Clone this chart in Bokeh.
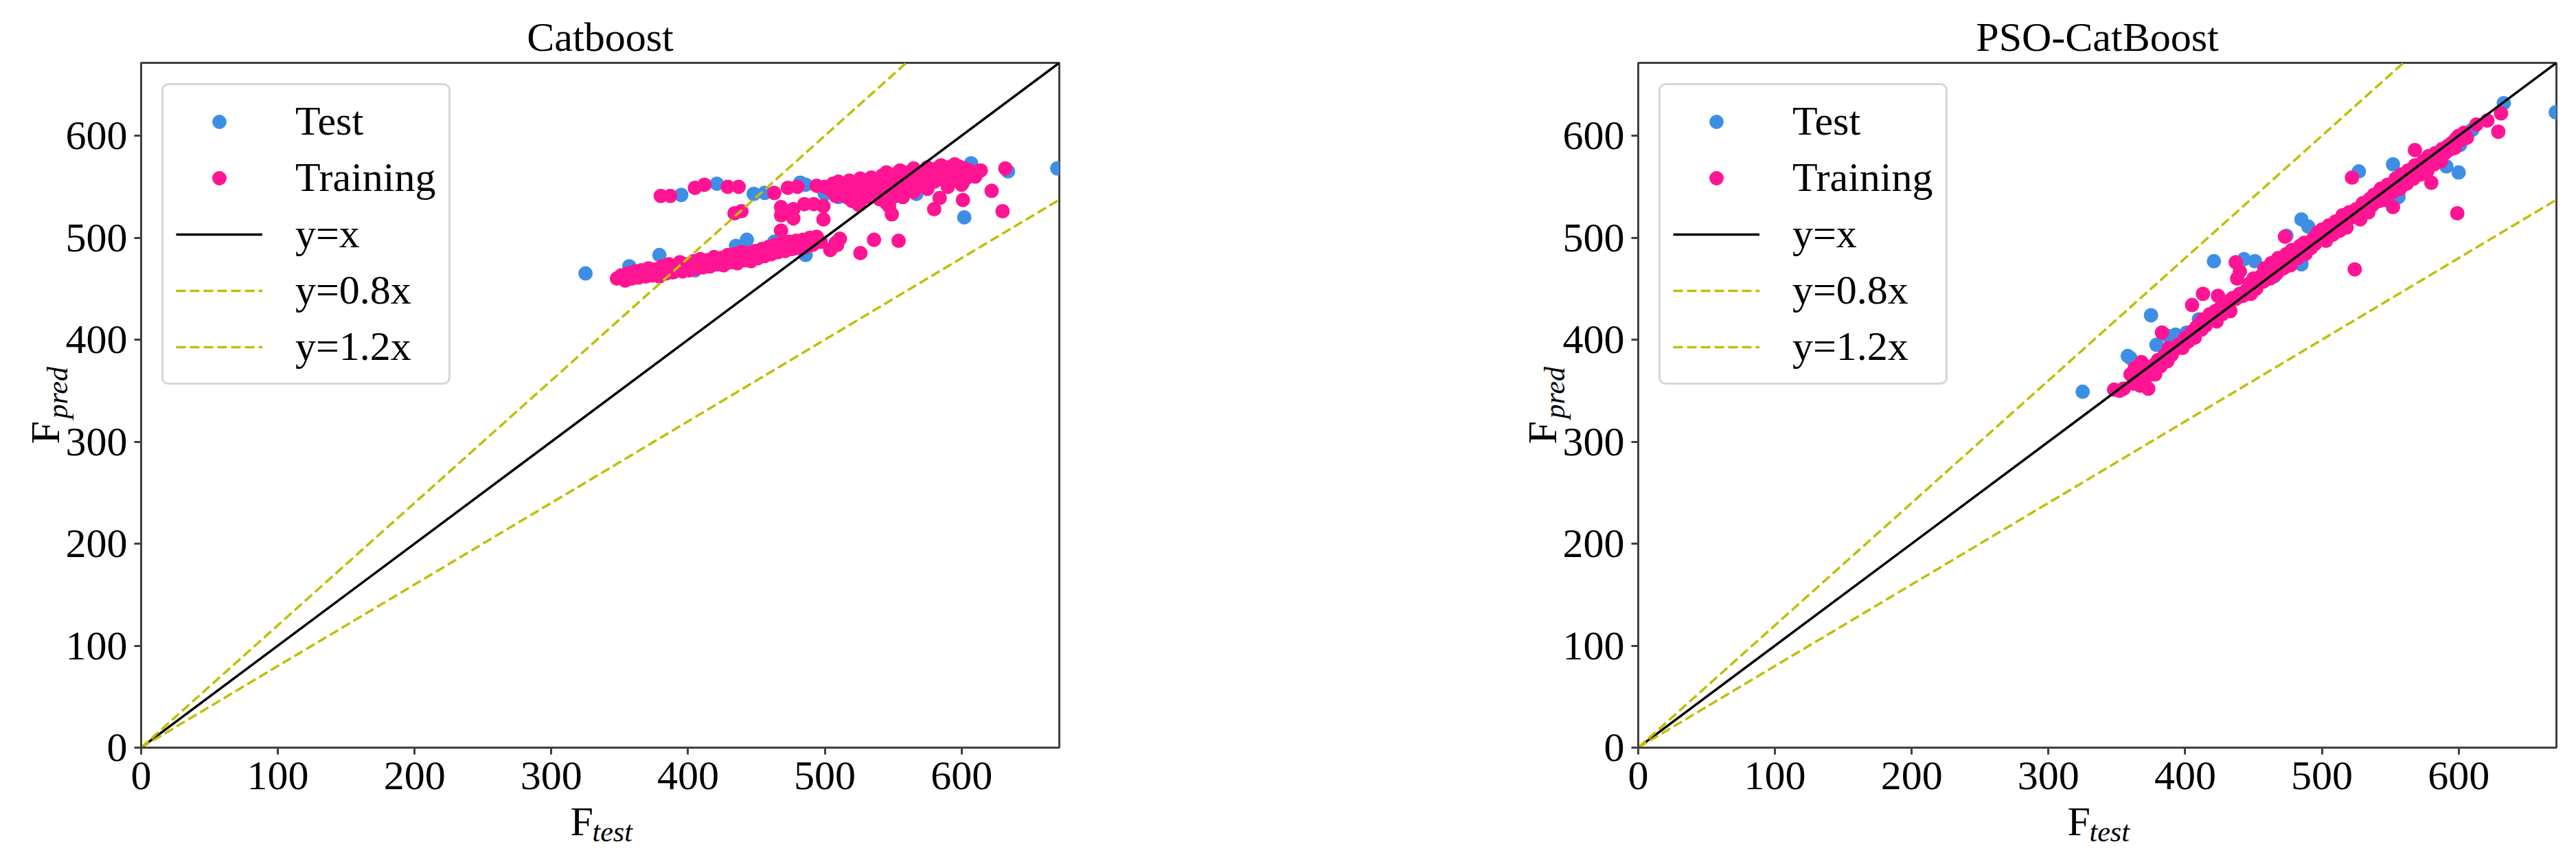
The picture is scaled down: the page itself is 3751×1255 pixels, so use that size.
from bokeh.plotting import figure
from bokeh.models import Range1d, Legend, LegendItem, FixedTicker, Title
from bokeh.layouts import row
from bokeh.embed import file_html
from bokeh.resources import INLINE

# ---------------- data ----------------
AX_MAX = 671.5
TICKS = [0, 100, 200, 300, 400, 500, 600]
REF_X = [0, AX_MAX]
SLOPES = {"y=x": 1.0, "y=0.8x": 0.8, "y=1.2x": 1.2}

TITLES = ["Catboost", "PSO-CatBoost"]

# Catboost - test
cat_test_x = [325, 357, 365, 379, 395, 405, 421, 435, 443, 448, 456, 463, 482, 486, 486,
              500, 510, 530, 545, 555, 567, 575, 590, 601, 602, 607, 634, 670]
cat_test_y = [465, 472, 468, 483, 542, 468, 553, 492, 498, 543, 544, 496, 554, 552, 483,
              543, 540, 552, 562, 558, 543, 560, 565, 554, 520, 573, 565, 568]

# Catboost - training
cat_train_x = [
    348, 351, 354, 356, 359, 361, 364, 366, 369, 371, 374, 376, 379, 381, 384, 386, 389, 391,
    394, 396, 399, 401, 404, 406, 409, 411, 414, 416, 419, 421, 424, 426, 429, 431, 434, 436,
    439, 441, 444, 446, 449, 451, 454, 456, 459, 461, 464, 466, 469, 471, 474, 476, 479, 481,
    484, 486, 489, 491, 494, 497,
    468, 511, 504, 509, 526, 536, 554, 508,
    439, 434, 468, 468, 477, 477, 485, 492, 499, 499, 549, 547, 580, 584, 601, 622, 630, 614, 632,
    380, 387, 405, 412, 429, 437, 463, 473, 480, 494, 500,
    503, 506, 508, 510, 512, 514, 516, 518, 520, 522, 524, 526, 528, 530, 532, 534, 536, 538,
    540, 542, 544, 546, 548, 550, 552, 554, 556, 558, 560, 562, 564, 566, 568, 570, 572, 574,
    576, 578, 580, 582, 584, 586, 588, 590, 592, 594, 596, 598, 600, 602, 604, 606,
    585, 575, 565, 555, 545, 595, 590, 580, 570, 560, 550, 540, 530, 520, 525, 545, 557, 565,
    575, 590, 600, 610, 612, 515, 535, 555, 575, 595]
cat_train_y = [
    460, 463, 458, 465, 460, 467, 461, 468, 462, 470, 463, 469, 462, 472, 465, 474, 466, 471,
    476, 467, 474, 468, 477, 470, 479, 471, 478, 472, 481, 474, 480, 473, 483, 476, 484, 475,
    486, 478, 485, 477, 487, 480, 489, 482, 491, 484, 493, 486, 494, 487, 496, 489, 497, 490,
    498, 491, 500, 493, 501, 496,
    507, 499, 488, 493, 485, 498, 497, 495,
    526, 524, 530, 522, 528, 519, 533, 533, 518, 531, 523, 531, 528, 539, 537, 546, 526, 566, 568,
    541, 541, 549, 552, 550, 550, 544, 549, 550, 551, 550,
    548, 553, 541, 555, 545, 552, 540, 556, 546, 553, 543, 558, 548, 555, 544, 559, 549, 557,
    546, 561, 551, 558, 547, 562, 552, 560, 549, 564, 554, 561, 551, 566, 556, 563, 553, 567,
    557, 565, 555, 568, 558, 566, 556, 569, 560, 567, 558, 570, 561, 568, 559, 566,
    571, 569, 568, 566, 564, 572, 563, 562, 558, 546, 540, 538, 540, 536, 532, 534, 540, 545,
    548, 550, 552, 560, 565, 548, 553, 556, 561, 565]

# PSO-CatBoost - test
pso_test_x = [325, 358, 360, 365, 375, 379, 387, 393, 401, 410, 421, 425, 430, 443, 451, 455,
              465, 474, 485, 485, 490, 505, 512, 520, 527, 535, 545, 552, 556, 560, 570, 578,
              585, 591, 595, 600, 601, 605, 610, 633, 671]
pso_test_y = [349, 384, 382, 366, 424, 395, 404, 405, 407, 420, 477, 430, 436, 479, 477, 458,
              462, 502, 518, 474, 511, 504, 510, 524, 565, 536, 543, 572, 540, 557, 565, 575,
              580, 570, 590, 564, 591, 600, 606, 632, 623]

# PSO-CatBoost - training
pso_train_x = [
    348, 352, 355, 360, 362, 363, 365, 367, 368, 370, 372, 373, 375, 377, 378, 380, 383, 382,
    385, 387, 388, 390, 392, 395, 405, 398, 400, 402, 413, 405, 407, 408, 410, 412, 413, 415,
    424, 418, 420, 422, 423, 425, 427, 428, 430, 432, 433, 435, 437, 437, 438, 440, 440, 442,
    445, 447, 448, 450, 452, 453, 455, 457, 458, 460, 462, 463, 465, 467, 468, 470, 473, 472,
    474, 475, 477, 478, 480, 482, 484, 485, 487, 488, 490, 492, 494, 495, 497, 498, 500, 502,
    503, 505, 507, 508, 510, 512, 513, 515, 517, 518, 520, 522, 522, 524, 525, 527, 528, 530,
    532, 534, 535, 537, 538, 540, 542, 543, 545, 547, 548, 550, 552, 552, 554, 555, 557, 558,
    560, 562, 563, 565, 567, 568, 568, 570, 572, 580, 574, 575, 577, 578, 580, 582, 583, 585,
    587, 588, 590, 592, 593, 595, 597, 598, 599, 600, 602, 604, 606, 613, 621, 629, 631]
pso_train_y = [
    351, 350, 352, 366, 357, 372, 360, 355, 378, 368, 364, 352, 370, 375, 366, 380, 407, 374,
    385, 379, 392, 385, 390, 395, 434, 392, 402, 398, 445, 408, 402, 412, 415, 410, 420, 414,
    443, 425, 423, 428, 418, 430, 425, 437, 433, 438, 428, 441, 476, 440, 460, 445, 467, 443,
    449, 455, 445, 460, 450, 458, 462, 457, 470, 464, 460, 475, 470, 465, 480, 474, 501, 470,
    484, 478, 473, 488, 484, 480, 492, 487, 495, 484, 495, 490, 500, 494, 505, 498, 508, 502,
    497, 512, 508, 503, 516, 512, 507, 522, 516, 510, 525, 520, 559, 469, 528, 522, 518, 534,
    528, 525, 538, 532, 542, 540, 536, 548, 543, 537, 552, 548, 545, 530, 558, 552, 548, 562,
    557, 553, 566, 562, 558, 586, 571, 566, 562, 554, 575, 570, 565, 580, 576, 572, 583, 579,
    575, 587, 583, 590, 586, 593, 588, 597, 524, 600, 596, 603, 598, 611, 615, 604, 622]

PANELS = [
    (cat_test_x, cat_test_y, cat_train_x, cat_train_y),
    (pso_test_x, pso_test_y, pso_train_x, pso_train_y),
]

# ---------------- style ----------------
BLUE = "#3D8FE6"
PINK = "#FF1493"
YELLOW = "#BFBF00"
FRAME = "#404040"
FONT = "Liberation Serif"
FS = "60px"
SUB_FS = "42px"


def txt_title(text, size, style, **kw):
    return Title(text=text, text_font=FONT, text_font_size=size, text_font_style=style,
                 text_color="black", **kw)


def make_panel(title, data, width, b_left, b_right):
    tx, ty, rx, ry = data
    p = figure(width=width, height=1250, x_range=Range1d(0, AX_MAX), y_range=Range1d(0, AX_MAX),
               output_backend="svg", toolbar_location=None,
               min_border_left=b_left, min_border_right=b_right,
               min_border_top=91, min_border_bottom=162)
    p.grid.visible = False
    p.background_fill_color = "white"
    p.border_fill_color = "white"
    p.outline_line_color = FRAME
    p.outline_line_width = 3
    p.outline_line_alpha = 1.0

    for ax in (p.xaxis[0], p.yaxis[0]):
        ax.ticker = FixedTicker(ticks=TICKS)
        ax.axis_line_color = FRAME
        ax.axis_line_width = 3
        ax.major_tick_line_color = FRAME
        ax.major_tick_line_width = 3
        ax.major_tick_out = 10
        ax.major_tick_in = 0
        ax.minor_tick_line_color = None
        ax.major_label_text_font = FONT
        ax.major_label_text_font_size = FS
        ax.major_label_text_color = "black"
    p.xaxis.major_label_standoff = 11
    p.yaxis.major_label_standoff = 10

    r_test = p.scatter(tx, ty, size=21, fill_color=BLUE, line_color=None)
    r_train = p.scatter(rx, ry, size=21, fill_color=PINK, line_color=None)
    line_rs = []
    for name, k in SLOPES.items():
        ys = [k * v for v in REF_X]
        if k == 1.0:
            r = p.line(REF_X, ys, line_color="black", line_width=3.5)
        else:
            r = p.line(REF_X, ys, line_color=YELLOW, line_width=3.5, line_dash="14 6")
        line_rs.append((name, r))

    items = [LegendItem(label="Test", renderers=[r_test]),
             LegendItem(label="Training", renderers=[r_train])]
    items += [LegendItem(label=n, renderers=[r]) for n, r in line_rs]
    legend = Legend(items=items, location="top_left", margin=30, padding=18,
                    spacing=13, glyph_width=126, glyph_height=52, label_height=52,
                    label_standoff=48, label_text_font=FONT, label_text_font_size=FS,
                    label_text_color="black",
                    border_line_color="#cccccc", border_line_width=3, border_line_alpha=0.8,
                    background_fill_color="white", background_fill_alpha=0.8)
    try:
        legend.border_radius = 10
    except Exception:
        pass
    p.add_layout(legend)

    # title (above)
    p.title = txt_title(title, FS, "normal", align="center", standoff=10)

    # x label: F_test (below)
    p.add_layout(txt_title("F", FS, "normal", align="left", offset=625,
                           vertical_align="top", standoff=22), "below")
    p.add_layout(txt_title("test", SUB_FS, "italic", align="left", offset=657,
                           vertical_align="top", standoff=-107), "below")
    # y label: F_pred (left)
    p.add_layout(txt_title("pred", SUB_FS, "italic", align="left", offset=479,
                           vertical_align="bottom", standoff=-28), "left")
    p.add_layout(txt_title("F", FS, "normal", align="left", offset=442,
                           vertical_align="bottom", standoff=-53), "left")
    return p


p1 = make_panel(TITLES[0], PANELS[0], 1875, 205, 333)
p2 = make_panel(TITLES[1], PANELS[1], 1870, 510, 23)
layout = row(p1, p2)

open("out.html", "w").write(file_html(layout, INLINE))
